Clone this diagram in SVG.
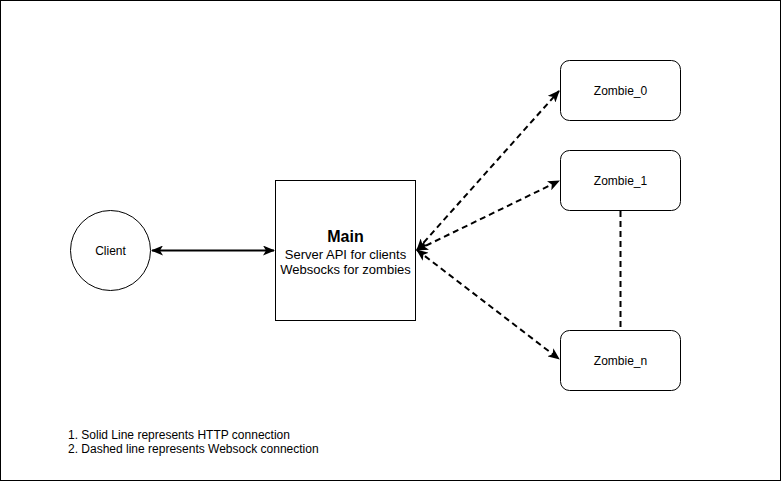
<svg xmlns="http://www.w3.org/2000/svg" width="782" height="482" viewBox="0 0 782 482">
<style>
.shape{fill:#fff;stroke:#000;stroke-width:1}
.lbl{font-family:"Liberation Sans",Arial,sans-serif;font-size:12px;fill:#000;text-anchor:middle}
.conn{fill:none;stroke:#000;stroke-width:2}
.dash{stroke-dasharray:6 4}
.legend{font-family:"Liberation Sans",Arial,sans-serif;font-size:12px;fill:#000}
</style>
<defs>
<marker id="arr" viewBox="0 0 12 10" refX="11" refY="5" markerWidth="12" markerHeight="10" markerUnits="userSpaceOnUse" orient="auto-start-reverse">
<path d="M0,0 L12,5 L0,10 L3,5 Z" fill="#000"/>
</marker>
</defs>
<rect x="0.5" y="0.5" width="780" height="480" fill="#fff" stroke="#000"/>
<g id="connectors">
<line class="conn" x1="152" y1="250.5" x2="274" y2="250.5" marker-start="url(#arr)" marker-end="url(#arr)"/>
<line class="conn dash" x1="417" y1="250" x2="559" y2="91" marker-start="url(#arr)" marker-end="url(#arr)"/>
<line class="conn dash" x1="417" y1="250" x2="559" y2="181" marker-start="url(#arr)" marker-end="url(#arr)"/>
<line class="conn dash" x1="417" y1="250" x2="559" y2="359" marker-start="url(#arr)" marker-end="url(#arr)"/>
<line class="conn dash" x1="620.5" y1="211" x2="620.5" y2="329"/>
</g>
<g id="client">
<circle class="shape" cx="110.5" cy="250.5" r="40"/>
<text class="lbl" x="110.5" y="255">Client</text>
</g>
<g id="main">
<rect class="shape" x="275.5" y="180.5" width="140" height="140"/>
<text class="lbl" x="345.5" y="242" style="font-size:16px;font-weight:bold">Main</text>
<text class="lbl" x="345.5" y="259" style="font-size:13px">Server API for clients</text>
<text class="lbl" x="345.5" y="274" style="font-size:13px">Websocks for zombies</text>
</g>
<g id="zombie0">
<rect class="shape" x="560.5" y="60.5" width="120" height="60" rx="9"/>
<text class="lbl" x="620.5" y="94.5">Zombie_0</text>
</g>
<g id="zombie1">
<rect class="shape" x="560.5" y="150.5" width="120" height="60" rx="9"/>
<text class="lbl" x="620.5" y="184.5">Zombie_1</text>
</g>
<g id="zombien">
<rect class="shape" x="560.5" y="330.5" width="120" height="60" rx="9"/>
<text class="lbl" x="620.5" y="364.5">Zombie_n</text>
</g>
<g id="legend">
<text class="legend" x="68" y="439">1. Solid Line represents HTTP connection</text>
<text class="legend" x="68" y="453">2. Dashed line represents Websock connection</text>
</g>
</svg>
